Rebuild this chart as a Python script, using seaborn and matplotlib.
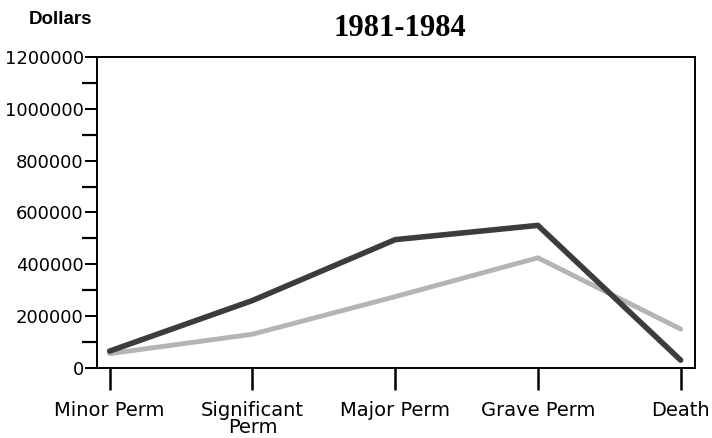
import numpy as np
import pandas as pd
from matplotlib import pyplot as plt
from matplotlib.ticker import MultipleLocator
import seaborn as sns

# injury severity categories
categories = ['Minor Perm', 'Significant\nPerm', 'Major Perm', 'Grave Perm', 'Death']
# dollar values (1981-1984)
dark_vals = [65000, 260000, 495000, 550000, 30000]
light_vals = [55000, 130000, 275000, 425000, 150000]
series_names = ['dark', 'light']
series_colors = {'dark': '#3c3c3c', 'light': '#b4b4b4'}

df = pd.DataFrame({
    'category': categories * 2,
    'dollars': dark_vals + light_vals,
    'series': [series_names[0]] * 5 + [series_names[1]] * 5,
})

sns.set_style("ticks")
plt.rcParams['font.family'] = ['DejaVu Sans']
plt.rcParams['text.color'] = 'black'

fig = plt.figure(figsize=(7.12, 4.38), dpi=100)
ax = fig.add_axes([0.136, 0.16, 0.84, 0.71])

sns.lineplot(data=df[df.series == 'light'], x='category', y='dollars', color=series_colors['light'],
             lw=3.5, sort=False, ax=ax, legend=False)
sns.lineplot(data=df[df.series == 'dark'], x='category', y='dollars', color=series_colors['dark'],
             lw=4, sort=False, ax=ax, legend=False)

ax.set_xlim(-0.09, 4.1)
ax.set_ylim(0, 1200000)
ax.yaxis.set_minor_locator(MultipleLocator(100000))
ax.set_yticks(np.arange(0, 1200001, 200000))
ax.set_yticklabels(['0', '200000', '400000', '600000', '800000', '1000000', '1200000'])
ax.set_xticks(range(len(categories)))
ax.set_xticklabels(categories, linespacing=0.85)
ax.set_xlabel('')
ax.set_ylabel('')

for s in ax.spines.values():
    s.set_linewidth(1.4)
    s.set_color('black')

ax.tick_params(axis='y', which='major', length=9, width=1.4, pad=0.5, labelsize=13, colors='black')
ax.tick_params(axis='y', which='minor', length=11, width=1.6, colors='black')
ax.tick_params(axis='x', which='major', length=16, width=1.8, pad=8, labelsize=14, colors='black')

fig.text(0.04, 0.955, 'Dollars', fontsize=13.5, fontweight='bold', family='Liberation Sans',
         va='center', color='black')
fig.text(0.562, 0.935, '1981-1984', fontsize=22, fontweight='bold', family='Liberation Serif',
         ha='center', va='center', color='black')

fig.savefig('out.png', dpi=100, facecolor='white')
